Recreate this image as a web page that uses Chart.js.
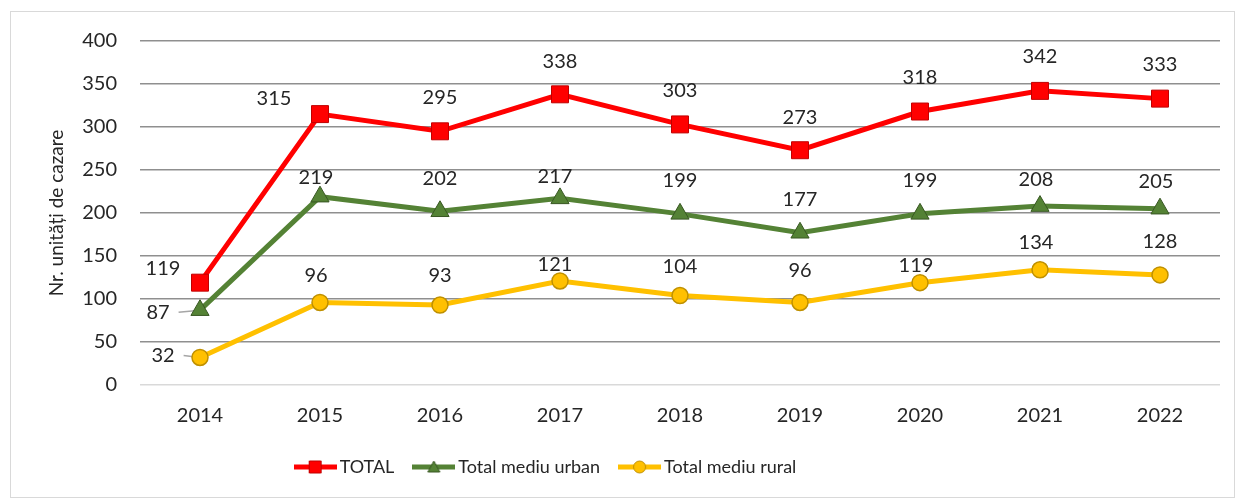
<!DOCTYPE html>
<html>
<head>
<meta charset="utf-8">
<script src="https://cdn.jsdelivr.net/npm/chart.js@4.4.1/dist/chart.umd.min.js"></script>
<style>
  html, body { margin: 0; padding: 0; background: #fff; }
  canvas { display: block; }
</style>
</head>
<body>
<canvas id="unitati" width="1238" height="500"></canvas>
<script>
// values
var years = ['2014', '2015', '2016', '2017', '2018', '2019', '2020', '2021', '2022'];
var totalUnits = [119, 315, 295, 338, 303, 273, 318, 342, 333];
var urbanUnits = [87, 219, 202, 217, 199, 177, 199, 208, 205];
var ruralUnits = [32, 96, 93, 121, 104, 96, 119, 134, 128];
var yTicks = [0, 50, 100, 150, 200, 250, 300, 350, 400];

// where each value label sits, relative to its point (dx, dy, leader line)
var totalLabelPos = [[-37, -14], [-46, -16], [0, -34], [0, -33], [0, -34], [0, -33], [0, -34], [0, -34], [0, -34]];
var urbanLabelPos = [[-42, 2, true], [-4, -19], [0, -33], [-5, -22], [0, -33], [0, -33], [0, -33], [-4, -27], [-4, -27]];
var ruralLabelPos = [[-37, -2, true], [-4, -27], [0, -29], [-5, -16], [0, -29], [0, -32], [-4, -17], [-4, -27], [0, -33]];
var labelPos = [totalLabelPos, urbanLabelPos, ruralLabelPos];

var textColor = '#262626';
Chart.defaults.font.family = 'Lato';
Chart.defaults.color = textColor;

// little line + marker pictures for the legend
function legendMarker(color, edge, shape) {
  var c = document.createElement('canvas');
  c.width = 43; c.height = 20;
  var g = c.getContext('2d');
  g.strokeStyle = color; g.lineWidth = 5;
  g.beginPath(); g.moveTo(0, 10); g.lineTo(43, 10); g.stroke();
  g.fillStyle = color; g.strokeStyle = edge; g.lineWidth = 1;
  g.beginPath();
  if (shape == 'rect') {
    g.rect(15.5, 4, 12, 12);
  } else if (shape == 'triangle') {
    g.moveTo(21.5, 4); g.lineTo(27.5, 15); g.lineTo(15.5, 15); g.closePath();
  } else {
    g.arc(21.5, 10, 6, 0, Math.PI * 2);
  }
  g.fill(); g.stroke();
  return c;
}
var markers = [
  legendMarker('#ff0000', '#c00000', 'rect'),
  legendMarker('#548235', '#385723', 'triangle'),
  legendMarker('#ffc000', '#bf9000', 'circle')
];

var framePlugin = {
  id: 'frame',
  beforeDraw: function(chart) {
    var ctx = chart.ctx;
    ctx.save();
    ctx.fillStyle = '#fff';
    ctx.fillRect(0, 0, chart.width, chart.height);
    ctx.strokeStyle = '#d9d9d9';
    ctx.lineWidth = 1;
    ctx.strokeRect(10.5, 11.5, 1224, 486);
    ctx.restore();
  },
  afterLayout: function(chart) {
    // legend sits left of centre in the original
    var lg = chart.legend;
    var d = 548 - (lg.left + lg.right) / 2;
    lg.left += d; lg.right += d;
  }
};

var valueLabels = {
  id: 'valueLabels',
  beforeDatasetsDraw: function(chart) {
    var ctx = chart.ctx;
    ctx.save();
    ctx.font = '20px Lato';
    ctx.strokeStyle = '#a6a6a6';
    ctx.lineWidth = 1.5;
    chart.data.datasets.forEach(function(ds, i) {
      chart.getDatasetMeta(i).data.forEach(function(pt, j) {
        var o = labelPos[i][j];
        if (!o[2]) return;
        var w = ctx.measureText(String(ds.data[j])).width;
        ctx.beginPath();
        ctx.moveTo(pt.x + o[0] + w / 2 + 9, pt.y + o[1]);
        ctx.lineTo(pt.x, pt.y);
        ctx.stroke();
      });
    });
    ctx.restore();
  },
  afterDatasetsDraw: function(chart) {
    var ctx = chart.ctx;
    ctx.save();
    ctx.font = '20px Lato';
    ctx.fillStyle = textColor;
    ctx.textAlign = 'center';
    ctx.textBaseline = 'middle';
    chart.data.datasets.forEach(function(ds, i) {
      chart.getDatasetMeta(i).data.forEach(function(pt, j) {
        var o = labelPos[i][j];
        ctx.fillText(String(ds.data[j]), pt.x + o[0], pt.y + o[1]);
      });
    });
    ctx.restore();
  }
};

new Chart('unitati', {
  type: 'line',
  data: {
    labels: years,
    datasets: [
      {
        label: 'TOTAL',
        data: totalUnits,
        borderColor: '#ff0000',
        backgroundColor: '#ff0000',
        borderWidth: 5,
        pointStyle: 'rect',
        pointRadius: 12,
        pointBorderColor: '#c00000',
        pointBorderWidth: 1,
        pointBackgroundColor: '#ff0000'
      },
      {
        label: 'Total mediu urban',
        data: urbanUnits,
        borderColor: '#548235',
        backgroundColor: '#548235',
        borderWidth: 5,
        pointStyle: 'triangle',
        pointRadius: 10.5,
        pointBorderColor: '#385723',
        pointBorderWidth: 1,
        pointBackgroundColor: '#548235'
      },
      {
        label: 'Total mediu rural',
        data: ruralUnits,
        borderColor: '#ffc000',
        backgroundColor: '#ffc000',
        borderWidth: 5,
        pointStyle: 'circle',
        pointRadius: 8,
        pointBorderColor: '#bf9000',
        pointBorderWidth: 1.5,
        pointBackgroundColor: '#ffc000'
      }
    ]
  },
  options: {
    responsive: false,
    animation: false,
    devicePixelRatio: 1,
    layout: { padding: { left: 45, right: 18, top: 41, bottom: 14 } },
    elements: { line: { tension: 0 } },
    plugins: {
      tooltip: { enabled: false },
      legend: {
        position: 'bottom',
        labels: {
          usePointStyle: true,
          pointStyleWidth: 31,
          padding: 24,
          color: textColor,
          font: { size: 18 },
          generateLabels: function(chart) {
            return chart.data.datasets.map(function(ds, i) {
              return {
                text: ds.label,
                pointStyle: markers[i],
                fillStyle: ds.borderColor,
                strokeStyle: ds.borderColor,
                lineWidth: 0,
                hidden: false,
                datasetIndex: i,
                fontColor: textColor
              };
            });
          }
        }
      }
    },
    scales: {
      x: {
        offset: true,
        grid: { display: false, drawTicks: false },
        border: { display: false },
        ticks: { padding: 19, font: { size: 20 }, color: textColor },
        afterFit: function(scale) { scale.height = 49; }
      },
      y: {
        min: 0,
        max: 400,
        afterBuildTicks: function(scale) {
          scale.ticks = yTicks.map(function(v) { return { value: v }; });
        },
        grid: {
          drawTicks: false,
          lineWidth: 1.5,
          color: function(c) { return c.tick && c.tick.value === 0 ? '#d9d9d9' : '#8f8f8f'; }
        },
        border: { display: false },
        ticks: { padding: 23, font: { size: 20 }, color: textColor },
        title: {
          display: true,
          text: 'Nr. unități de cazare',
          color: textColor,
          font: { size: 19 },
          padding: 0
        },
        afterFit: function(scale) { scale.width = 95; }
      }
    }
  },
  plugins: [framePlugin, valueLabels]
});
</script>
</body>
</html>
